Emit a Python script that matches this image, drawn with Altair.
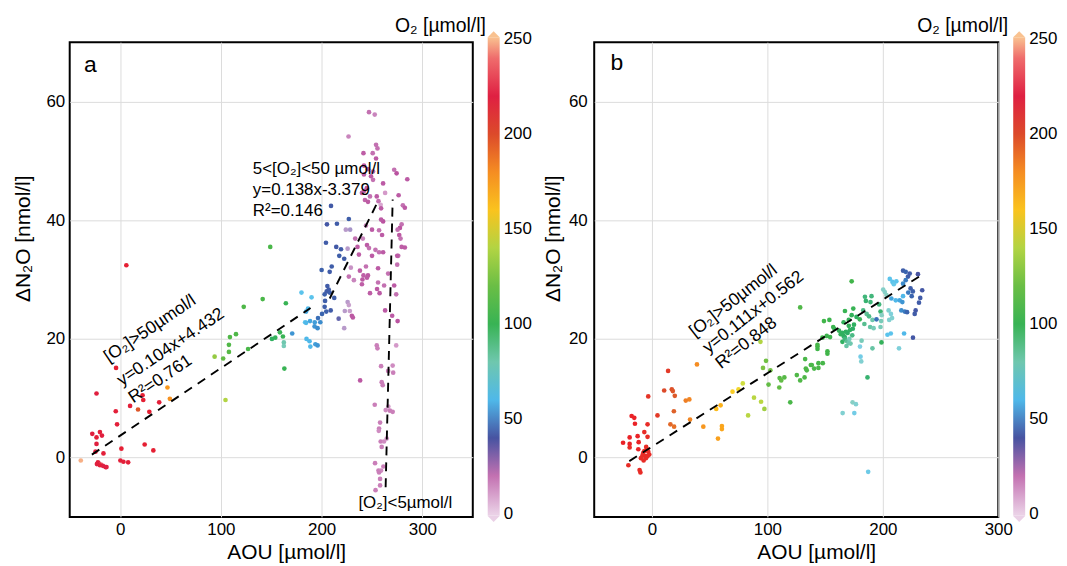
import altair as alt
import pandas as pd

FONT = "Liberation Sans"

# ---------------- panel a : AOU, dN2O, O2 ----------------
a_aou = [6.2, -4, -23.4, 9.9, 17.8, 23, 22.3, 38.8, 29, -4.3, -3, -27.6, -20, -18, -23.4, -23.4, -24.4, -16.5,
         -22, -21, -23, -19, -17, -14.5, -13.5, -20, -39, 1.3, 0.3, 3.3, 8, 24.4, 33,
         47, 49.4,
         149, 122.7, 141.5, 164.5, 109, 115, 108, 108, 93.8, 102.3, 127, 104.6, 158.6, 150.7, 154, 161.6, 162.5, 162.5,
         163, 170.8, 180, 183.6,
         190, 186.5, 184.6, 184.6, 188.5, 193.2, 198.7, 193, 196, 185, 188, 193.8, 196, 188.8, 196.4, 200.4, 204.6,
         209, 203, 203.4, 212.5, 203, 205, 207, 208, 205.7, 200, 210, 208, 204.3, 214.5, 219.2, 217.5, 222.4, 205.3,
         215.2, 227, 209.3, 216.9, 224, 228.3, 225.8, 225.8, 227, 223, 228, 222.4, 230, 231,
         247, 252.7, 226.7, 254, 255.4, 241.5, 250.7, 254, 242, 246, 251, 272, 274.4, 285, 242, 249, 251, 261, 263,
         244.8, 242, 240, 248, 254.7, 256.4, 258.6, 276.4, 243, 246, 280.6, 282.6, 259, 261, 259, 244, 279.4, 277.7,
         275.4, 250, 257, 260, 233.3, 240.9, 277, 278.3, 235.6, 253.4, 245, 247, 279.4, 282.6, 237, 257, 261, 276,
         250, 229, 244, 241.5, 246, 238, 240.5, 245, 256, 266, 275, 275, 227, 232, 240, 262, 255, 257.5, 248, 256,
         272, 274, 263, 270, 275.4,
         254.7, 255.4, 274, 259, 270.5, 271, 266, 259.6, 260.6, 238.2, 252.7, 263.6, 266.2, 267.8, 270.5, 258, 257,
         256.7, 258.6, 261.9, 259.6, 264.6, 253, 261.3, 256.4, 259, 257, 258, 258, 253.5]
a_dn2o = [32.4, 15.1, 10.8, 8.7, 8.1, 9.7, 10.5, 9.3, 7.7, 7.8, 5.6, 4.0, 4.3, 3.7, 3.4, 2.3, 1.0, 0.7,
          -0.8, -1.0, -1.1, -1.2, -1.4, -1.6, -1.6, -1.3, -0.5, 1.5, -0.5, -0.7, -0.8, 2.2, 1.2,
          11.8, 9.9,
          35.5, 25.4, 26.7, 26, 20.3, 20.8, 19, 17.8, 17, 16.7, 18.3, 9.7, 21.1, 20, 20.2, 20.4, 19.4, 18.8,
          15, 20.9, 27.8, 22.8,
          27, 25.1, 24.6, 22.7, 23, 22.8, 22.8, 22.1, 21.8, 20, 19.6, 19.1, 18.9, 18.7, 23.5, 24.2, 24.6,
          24.8, 25.4, 26.4, 26.9, 27.5, 28, 28.3, 27.8, 28.9, 31.6, 32.2, 31.3, 36.2, 35.5, 35.1, 34, 33.5, 39.3,
          39.4, 40.2, 42.4, 23.4, 38.4, 38.4, 35.2, 26.2, 25.7, 24.7, 24.7, 21.8, 23.9, 23.6,
          58.2, 57.8, 54.1, 52.7, 52.1, 51.3, 51.3, 50.4, 49.2, 48.6, 48.2, 48.5, 47.9, 46.9, 47.7, 47.4, 46.8, 46.2, 44.6,
          45.4, 44.9, 44.6, 44, 44, 43.2, 42.6, 44.2, 43.4, 43.1, 42.5, 42.1, 42, 39.8, 40.1, 39.1, 39.3, 38.7,
          38.4, 38.4, 38.3, 37.5, 36.9, 36.9, 37.5, 36.9, 35.5, 35, 35.8, 35.3, 35.5, 35.4, 34.2, 34.6, 34.6, 34,
          34, 32, 32.2, 30.7, 30.7, 31.5, 30, 30.3, 31.9, 31, 32.5, 34, 30.5, 29.9, 29.2, 29, 28.4, 27.7, 27.7, 29.5,
          29, 27.5, 24.8, 23.9, 23,
          18.9, 18.4, 18.9, 15.4, 15.5, 14.3, 14.6, 12.7, 12.2, 13, 8.9, 8, 8.6, 7.9, 7.7, 5.9, 4.9,
          4.5, 2.7, 2.7, 1.8, 3.2, -0.95, -1.5, -2.2, -2.2, -2.5, -3.6, -4.7, -5.5]
a_o2 = [212, 212, 218, 215, 196, 212, 212, 215, 212, 215, 215, 218, 215, 218, 215, 218, 218, 215,
        215, 220, 218, 238, 222, 218, 220, 215, 248, 212, 215, 215, 215, 212, 212,
        175, 178,
        108, 110, 108, 100, 112, 110, 112, 115, 132, 118, 108, 140, 100, 96, 98, 100, 80, 78,
        100, 56, 62, 62,
        62, 60, 58, 60, 58, 57, 55, 56, 55, 60, 60, 57, 56, 60, 50, 48, 46,
        44, 45, 45, 45, 46, 44, 44, 45, 44, 46, 45, 44, 44, 43, 44, 45, 44, 42,
        44, 45, 43, 38, 30, 32, 30, 30, 28, 30, 28, 30, 14, 14,
        20, 22, 22, 20, 20, 12, 20, 18, 15, 14, 20, 20, 16, 18, 12, 18, 20, 18, 6,
        14, 12, 13, 20, 18, 20, 5, 18, 10, 13, 20, 18, 18, 16, 18, 22, 20, 15,
        20, 18, 20, 18, 20, 22, 14, 20, 13, 20, 18, 20, 12, 18, 12, 20, 18, 20,
        18, 25, 20, 12, 14, 12, 14, 18, 18, 20, 20, 18, 20, 22, 12, 20, 14, 18, 12, 20,
        18, 20, 18, 18, 16,
        8, 8, 6, 8, 7, 8, 8, 8, 8, 14, 8, 7, 6, 8, 8, 8, 8,
        7, 8, 7, 8, 6, 8, 8, 8, 7, 8, 8, 8, 8]

# ---------------- panel b : AOU, dN2O, O2 ----------------
b_aou = [-20.4, -10.7, -10, -25, -19.3, -19.3, -11.5, -11.8, -19.3, -12.4, -17.6, -15.3, -14.7, -3.8, -3.8, -6.6,
         -3.2, 4.8, -6.6, -4.3, -3.2, -8.1, -6, -3.8, -9.5, -5.2, -7.2, -2.3, -5, -7.5,
         14, 10.6, 17.2, 18.1, 19.8, 19, 16, 19.2,
         39, 32.4, 29.3, 33, 44.5, 57.2, 60.6, 60.6,
         55.7, 59.5, 69.8, 75, 78.7, 83.3, 88.4, 94.5, 97.4, 94,
         98.8, 96.2, 102.6, 101, 110.6, 112, 114.7, 110.3, 119.8, 125.5, 128.4, 132.2, 133.3, 134.1, 137.6, 132.7,
         128.4, 138.5, 140.5, 144.2, 144.2, 148, 143.4, 143.4, 143.4, 152, 152, 147.7, 154.3, 151.4, 149, 153.7,
         157, 158, 162, 163.5, 165, 166, 167, 168, 165, 167, 169, 170.5, 168.5, 171, 172, 169.5, 171.5, 173.5,
         170.5, 174, 175, 167.2, 174.4, 173, 177.2, 180, 166, 170.5, 173,
         184.5, 190.2, 185.3, 189.3, 183, 186, 188, 191, 184, 189, 192, 196.8, 198, 200.3, 201.7, 203.1, 206,
         208.3, 209.5, 211.7, 217.5, 219.8, 221.8, 223.3, 219.8, 217.5, 230.4, 234.1, 232.4, 231.3, 228.4, 227.6,
         224, 226, 222, 225, 207.4, 211.2, 214.6, 216.9, 217.5, 216, 219, 221, 205, 207, 205.5, 208, 199, 198.5,
         198, 194.5, 204, 206.9, 218.4, 226.1, 214, 198.8, 191, 181.6, 180.2, 180.7, 181.3, 186.7, 173.8, 176.7,
         165.2, 175.3, 187.3]
b_dn2o = [-1.3, -2.1, -2.5, 2.5, 2.3, 1.7, 2.6, 1.4, 3.4, 3.6, 7, 6.7, 5.7, 5.6, 3.5, 4.3,
          10.3, 7.1, 1.1, 1.4, 1.0, 0.4, 0.25, 0.25, -0.1, -0.1, -0.5, 0.5, 1.8, 0.8,
          14.6, 11.3, 11.5, 11.2, 10.4, 7.8, 5.6, 5.2,
          15.7, 9.8, 9.6, 6.4, 5.2, 3.2, 5.3, 4.8,
          8.2, 8.8, 11.1, 11.5, 12.5, 7.1, 10.1, 9.4, 8.2, 19.5,
          16.3, 15.1, 14.7, 12.3, 13.4, 13, 13.5, 11.8, 9.3, 13.9, 13, 13.5, 15, 14.7, 15.6, 16.6,
          25.3, 15.6, 15, 15.9, 15.1, 15.9, 18.7, 18.3, 19, 17.9, 17.5, 20.2, 20.3, 20.5, 23, 23.2,
          22, 21.7, 21.4, 20.8, 21, 20.5, 20.3, 21.2, 19.5, 20, 19.6, 19.3, 18.8, 20, 19.2, 21, 21.5, 20.6,
          22.2, 21.7, 22.4, 24.7, 25.1, 24, 23.7, 23.3, 22.8, 23.2, 29.7,
          27.1, 27.2, 26.4, 26.2, 24.8, 24.2, 23.8, 23.2, 22.5, 22, 21.8, 25.8, 24.6, 28.3, 27.9, 27.4, 30.1,
          29.6, 29.2, 29.7, 31.5, 31.3, 30.5, 31, 29.9, 29.3, 30.9, 28.2, 26.9, 26.1, 24.8, 24.2,
          28.5, 28, 27.8, 27.2, 26.8, 26.5, 26.5, 26.2, 27.2, 24.8, 24.6, 24.5, 24.8, 24.2, 23.2, 23.5, 24, 23,
          22, 23.3, 20.7, 20.9, 20.9, 20.2, 18.4, 19.4, 18.4, 19.7, 18.7, 17, 16.2, 13.5, 9.3, 9,
          7.5, 7.5, -2.4]
b_o2 = [205, 205, 205, 206, 206, 205, 206, 206, 206, 206, 206, 206, 206, 205, 205, 205,
        204, 203, 205, 205, 205, 205, 205, 205, 205, 205, 205, 205, 205, 205,
        203, 200, 198, 196, 195, 192, 190, 188,
        180, 182, 184, 182, 176, 172, 170, 170,
        162, 165, 158, 155, 148, 142, 142, 142, 135, 140,
        122, 125, 122, 118, 115, 118, 115, 118, 108, 112, 112, 110, 110, 110, 108, 108,
        112, 108, 108, 106, 108, 106, 106, 104, 106, 104, 104, 104, 102, 102, 104, 102,
        102, 100, 98, 98, 96, 96, 94, 96, 96, 90, 85, 80, 82, 78, 80, 94, 96, 88,
        98, 94, 96, 100, 100, 98, 96, 100, 98, 98, 104,
        90, 90, 92, 90, 88, 85, 88, 80, 86, 82, 78, 90, 92, 74, 74, 75, 62,
        62, 64, 62, 45, 48, 45, 44, 52, 55, 40, 42, 44, 44, 42, 44,
        45, 46, 52, 48, 58, 60, 58, 56, 60, 55, 52, 48, 72, 70, 72, 72, 75, 78,
        78, 50, 62, 62, 60, 42, 70, 98, 82, 78, 68, 66, 72, 92, 75, 72,
        72, 66, 65]

# regression lines (as drawn): segment id, AOU, dN2O
a_line_seg = ["s1", "s1", "s2", "s2", "s3", "s3"]
a_line_x = [-28, 189, 208, 256, 270.5, 263.5]
a_line_y = [0.5, 25.2, 26.8, 43.2, 43.5, -5.0]
b_line_seg = ["s1", "s1"]
b_line_x = [-19.6, 234.7]
b_line_y = [-0.6, 30.9]

# colour bar for O2 (outer stops -1 / 251 only pad the bar so end labels stay centred)
o2_stops = [-1, 0, 5, 10, 17, 22, 28, 34, 40, 48, 55, 61, 68, 75, 85, 94, 103, 115, 128, 140, 150,
            156, 163, 180, 192, 200, 206, 218, 228, 238, 245, 250, 251]
o2_colors = ["#ead0e6", "#ead0e6", "#d9a6d0", "#c064a9", "#b9509e", "#c985bd", "#c8a0cc", "#948ec4",
             "#4753a1", "#3a64ae", "#3c8ccd", "#55c1ee", "#7fd0e3", "#88cfc4", "#5cbf94", "#2eae65",
             "#3fb54a", "#57b947", "#86c543", "#b2d443", "#d6df3d", "#f7d42a", "#fcb619", "#f58d22",
             "#de6129", "#dc4a2a", "#ea2227", "#e01f3e", "#d92652", "#ec5b68", "#f3927b", "#f9c290",
             "#f9c290"]
o2_ticks = [0, 50, 100, 150, 200, 250]
# end caps of the colour bar: O2 value of each cap
cap_o2 = [250, 0]

x_ticks = [0, 100, 200, 300]
y_ticks = [0, 20, 40, 60]
y_domain = [-10, 70]

# annotations
a_rot_labels = ["[O₂]>50µmol/l", "y=0.104x+4.432", "R²=0.761"]
a_rot_x = [29.8, 50.2, 40.0]
a_rot_y = [21.7, 18.6, 13.2]
a_eq_labels = ["5<[O₂]<50 µmol/l", "y=0.138x-3.379", "R²=0.146"]
a_eq_x = [131.7, 131.7, 131.7]
a_eq_y = [48.6, 45.0, 41.5]
a_low_label = ["[O₂]<5µmol/l"]
a_low_x = [236.5]
a_low_y = [-7.7]
b_rot_labels = ["[O₂]>50µmol/l", "y=0.111x+0.562", "R²=0.848"]
b_rot_x = [70.6, 87.8, 81.8]
b_rot_y = [26.4, 24.5, 19.3]
panel_letters = ["a", "b"]
a_letter_xy = [-29.6, 66.2]
b_letter_xy = [-30.3, 66.5]
cbar_title = "O₂ [µmol/l]"
a_cbar_title_xy = [363.0, 72.8]
b_cbar_title_xy = [308.5, 72.8]
# colour-bar caps position (AOU, dN2O) in each panel
a_cap_x = [370.7, 370.7]
b_cap_x = [318.1, 318.1]
cap_y = [71.34, -10.34]

UP = "M-1,0.5L1,0.5L0,-0.5Z"
DOWN = "M-1,-0.5L1,-0.5L0,0.5Z"


def make_panel(aou, dn2o, o2, xdomain, width, line_seg, line_x, line_y,
               rot_labels, rot_x, rot_y, rot_angle, letter, letter_xy, ctitle_xy,
               x_title_x, y_title_x, y_label_pad, cap_x, extra=None):
    height = 477
    xs = alt.Scale(domain=xdomain, nice=False, zero=False)
    ys = alt.Scale(domain=y_domain, nice=False, zero=False)
    xax = alt.Axis(values=x_ticks, title="AOU [µmol/l]", grid=True, ticks=False, domain=False,
                   labelFlush=False, labelFontSize=17, labelPadding=5, titleFontSize=21,
                   titleX=x_title_x, titleY=36, titleBaseline="middle", titleAlign="center")
    yax = alt.Axis(values=y_ticks, title="ΔN₂O [nmol/l]", grid=True, ticks=False, domain=False,
                   labelFlush=False, labelFontSize=17, labelPadding=y_label_pad, titleFontSize=21,
                   titleX=y_title_x, titleY=197, titleBaseline="middle", titleAlign="center",
                   titleAngle=270)
    X = alt.X("x:Q", scale=xs, axis=xax)
    Y = alt.Y("y:Q", scale=ys, axis=yax)

    cscale = alt.Scale(domain=o2_stops, range=o2_colors, clamp=True)
    unit = height / 250.0
    pts_df = pd.DataFrame({"x": aou, "y": dn2o, "o2": o2})
    legend = alt.Legend(orient="none", legendX=width + 15, legendY=-3 - unit, direction="vertical",
                        gradientLength=height + 2 * unit, gradientThickness=12, gradientStrokeWidth=0,
                        values=o2_ticks, labelFontSize=17, labelOffset=4,
                        labelOverlap=False, title=None)
    pts = alt.Chart(pts_df).mark_circle(size=22, opacity=1).encode(
        x=X, y=Y, color=alt.Color("o2:Q", scale=cscale, legend=legend))

    cap_df = pd.DataFrame({"x": cap_x, "y": cap_y, "o2": cap_o2})
    cap_up = alt.Chart(cap_df.iloc[[0]]).mark_point(shape=UP, size=144, filled=True, opacity=1,
                                                    strokeWidth=0).encode(
        x=X, y=Y, color=alt.Color("o2:Q", scale=cscale, legend=None))
    cap_dn = alt.Chart(cap_df.iloc[[1]]).mark_point(shape=DOWN, size=144, filled=True, opacity=1,
                                                    strokeWidth=0).encode(
        x=X, y=Y, color=alt.Color("o2:Q", scale=cscale, legend=None))

    line_df = pd.DataFrame({"seg": line_seg, "x": line_x, "y": line_y})
    lines = alt.Chart(line_df).mark_line(color="black", strokeWidth=1.9, strokeDash=[9, 7]).encode(
        x=X, y=Y, detail="seg:N")

    rot_df = pd.DataFrame({"x": rot_x, "y": rot_y, "t": rot_labels})
    rot = alt.Chart(rot_df).mark_text(angle=rot_angle, fontSize=17.5, align="center", baseline="middle",
                                      color="black").encode(x=X, y=Y, text="t:N")

    let_df = pd.DataFrame({"x": [letter_xy[0]], "y": [letter_xy[1]], "t": [letter]})
    let = alt.Chart(let_df).mark_text(fontSize=23, align="center", baseline="middle",
                                      color="black").encode(x=X, y=Y, text="t:N")

    ct_df = pd.DataFrame({"x": [ctitle_xy[0]], "y": [ctitle_xy[1]], "t": [cbar_title]})
    ct = alt.Chart(ct_df).mark_text(fontSize=19.5, align="right", baseline="middle",
                                    color="black").encode(x=X, y=Y, text="t:N")

    layers = [pts, cap_up, cap_dn, lines, rot, let, ct]
    if extra:
        for (lab, xx, yy) in extra:
            df = pd.DataFrame({"x": xx, "y": yy, "t": lab})
            layers.append(alt.Chart(df).mark_text(fontSize=17, align="left", baseline="middle",
                                                  color="black").encode(
                x=X, y=Y, text="t:N"))
    return alt.layer(*layers).properties(width=width, height=height)


panel_a = make_panel(a_aou, a_dn2o, a_o2, [-50, 350], 405, a_line_seg, a_line_x, a_line_y,
                     a_rot_labels, a_rot_x, a_rot_y, 326, panel_letters[0], a_letter_xy,
                     a_cbar_title_xy, 217.5, -46, 5, a_cap_x,
                     extra=[(a_eq_labels, a_eq_x, a_eq_y), (a_low_label, a_low_x, a_low_y)])
panel_b = make_panel(b_aou, b_dn2o, b_o2, [-50, 300], 406, b_line_seg, b_line_x, b_line_y,
                     b_rot_labels, b_rot_x, b_rot_y, 322, panel_letters[1], b_letter_xy,
                     b_cbar_title_xy, 223, -41, 7, b_cap_x)

chart = alt.hconcat(panel_a, panel_b, spacing=8).resolve_scale(
    color="independent").resolve_legend(color="independent").properties(
    padding={"left": 4, "top": 5, "right": 0, "bottom": 0}
).configure(font=FONT).configure_view(stroke="black", strokeWidth=2).configure_axis(
    labelFont=FONT, titleFont=FONT, labelColor="black", titleColor="black", titleFontWeight="normal",
    gridColor="#dcdcdc", gridWidth=1
).configure_legend(labelFont=FONT, labelColor="black").configure_text(font=FONT)

chart.save("out.html", embed_options={"renderer": "svg", "actions": False})
